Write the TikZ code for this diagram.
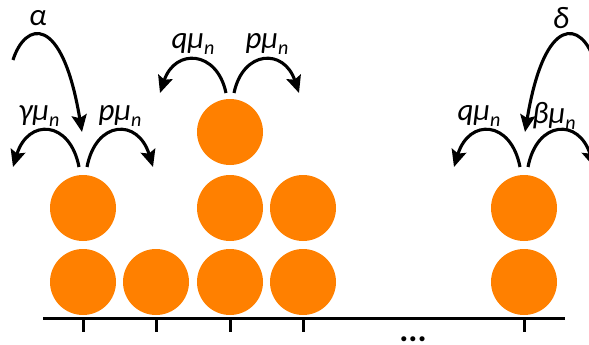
\documentclass[tikz,border=0pt]{standalone}
\usepackage{fontspec}
\setmainfont{Carlito}
\usetikzlibrary{arrows.meta}
\definecolor{ballorange}{RGB}{255,128,0}
\newcommand{\sub}[1]{\raisebox{-0.35ex}{\fontsize{20}{20}\selectfont #1}}
\tikzset{
  ball/.style={circle, fill=ballorange, minimum size=66pt, inner sep=0pt},
  jump/.style={line width=3.1pt, -{Stealth[length=17pt,width=15pt,inset=3pt]}},
  rate/.style={font=\fontsize{31}{31}\selectfont\itshape, inner sep=0pt},
  axis/.style={line width=3pt},
  tick/.style={line width=3pt}
}
\begin{document}
\begin{tikzpicture}[x=1pt,y=-1pt]
\useasboundingbox (0,0) rectangle (589,345);
\clip (0,0) rectangle (589,345);
% balls
\node[ball] (b11) at (83,282) {};
\node[ball] (b12) at (83,208) {};
\node[ball] (b21) at (156,282) {};
\node[ball] (b31) at (230,282) {};
\node[ball] (b32) at (230,208) {};
\node[ball] (b33) at (230,132) {};
\node[ball] (b41) at (303,282) {};
\node[ball] (b42) at (303,208) {};
\node[ball] (b51) at (524,282) {};
\node[ball] (b52) at (524,208) {};
% axis
\coordinate (axL) at (43,318.5);
\coordinate (axR) at (565,318.5);
\draw[axis] (axL) -- (axR);
\foreach \x/\n in {83/t1,156/t2,230/t3,303/t4,524/t5}{
  \coordinate (\n a) at (\x,318);
  \coordinate (\n b) at (\x,332);
  \draw[tick] (\n a) -- (\n b);
}
\node[font=\fontsize{34}{34}\selectfont\bfseries, inner sep=0pt, anchor=base] (dots) at (413,341) {...};
% column 1 arrows
\coordinate (s1l) at (79,167); \coordinate (e1l) at (13,167);
\coordinate (s1r) at (87,167); \coordinate (e1r) at (153,167);
\draw[jump] (s1l) .. controls (70,120) and (28,118) .. (e1l);
\draw[jump] (s1r) .. controls (96,120) and (138,118) .. (e1r);
\node[rate] (g1) at (39,116) {γμ\sub{n}};
\node[rate] (p1) at (120,116) {pμ\sub{n}};
% alpha
\coordinate (sa) at (13,60); \coordinate (ea) at (82,132);
\draw[jump] (sa) .. controls (25,22) and (62,12) .. (ea);
\node[rate] (al) at (38,18) {α};
% column 3 arrows
\coordinate (s3l) at (226,93); \coordinate (e3l) at (160,93);
\coordinate (s3r) at (234,93); \coordinate (e3r) at (299,93);
\draw[jump] (s3l) .. controls (217,50) and (175,48) .. (e3l);
\draw[jump] (s3r) .. controls (243,50) and (284,48) .. (e3r);
\node[rate] (q3) at (193,44) {qμ\sub{n}};
\node[rate] (p3) at (267,44) {pμ\sub{n}};
% last column arrows
\coordinate (s5l) at (520,167); \coordinate (e5l) at (454,167);
\coordinate (s5r) at (528,167); \coordinate (e5r) at (594,167);
\draw[jump] (s5l) .. controls (511,120) and (469,118) .. (e5l);
\draw[jump] (s5r) .. controls (537,120) and (579,118) .. (e5r);
\node[rate] (q5) at (479,116) {qμ\sub{n}};
\node[rate, anchor=west] (b5) at (532,116) {βμ\sub{n}};
% delta
\coordinate (sd) at (594,60); \coordinate (ed) at (525,132);
\draw[jump] (sd) .. controls (582,22) and (545,12) .. (ed);
\node[rate] (de) at (561,18) {δ};
\end{tikzpicture}
\end{document}
